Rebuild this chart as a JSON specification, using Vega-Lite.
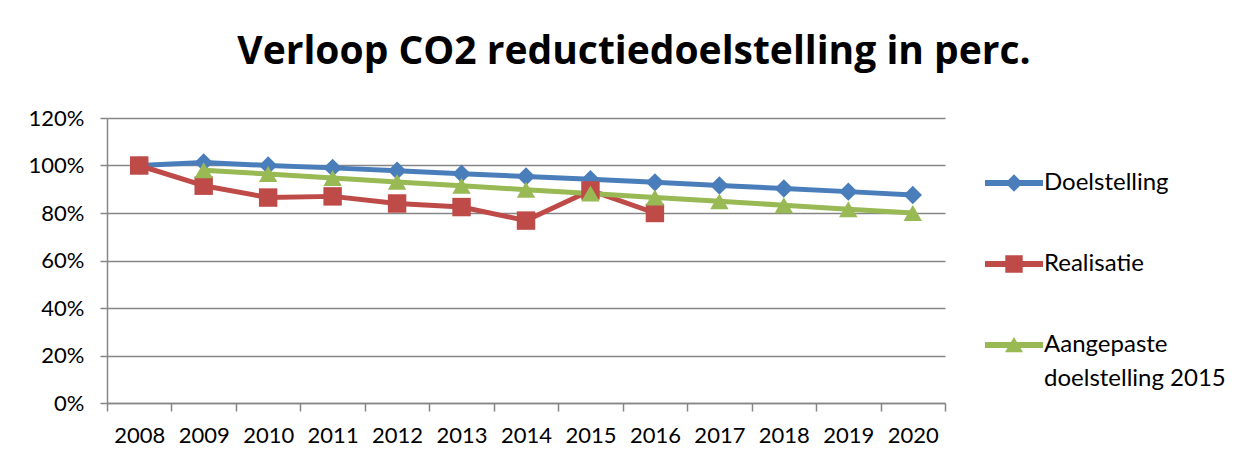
{
  "$schema": "https://vega.github.io/schema/vega-lite/v6.json",
  "width": 838,
  "height": 285,
  "autosize": {"type": "none"},
  "padding": {"left": 107, "top": 118, "right": 315, "bottom": 63},
  "background": "white",
  "title": {
    "text": "Verloop CO2 reductiedoelstelling in perc.",
    "font": "Open Sans",
    "fontSize": 39,
    "fontWeight": "bold",
    "color": "#000000",
    "anchor": "middle",
    "frame": "group",
    "dx": 108,
    "dy": 36,
    "offset": 40,
    "baseline": "alphabetic"
  },
  "config": {
    "view": {"stroke": null},
    "font": "Lato",
    "style": {"guide-label": {"lineHeight": 34}},
    "axis": {
      "labelFont": "Lato",
      "labelFontSize": 22,
      "labelColor": "#000000",
      "domainColor": "#868686",
      "tickColor": "#868686",
      "gridColor": "#868686",
      "domainWidth": 1.5,
      "tickWidth": 1.5,
      "gridWidth": 1.5,
      "title": null
    },
    "legend": {"labelFont": "Lato", "labelColor": "#000000"}
  },
  "data": {
    "values": [
      {"year": "2008", "series": "Doelstelling", "value": 100},
      {"year": "2009", "series": "Doelstelling", "value": 101.3},
      {"year": "2010", "series": "Doelstelling", "value": 100},
      {"year": "2011", "series": "Doelstelling", "value": 99},
      {"year": "2012", "series": "Doelstelling", "value": 97.8},
      {"year": "2013", "series": "Doelstelling", "value": 96.5},
      {"year": "2014", "series": "Doelstelling", "value": 95.4},
      {"year": "2015", "series": "Doelstelling", "value": 94.2},
      {"year": "2016", "series": "Doelstelling", "value": 92.9},
      {"year": "2017", "series": "Doelstelling", "value": 91.6},
      {"year": "2018", "series": "Doelstelling", "value": 90.3},
      {"year": "2019", "series": "Doelstelling", "value": 89},
      {"year": "2020", "series": "Doelstelling", "value": 87.6},
      {"year": "2008", "series": "Realisatie", "value": 100},
      {"year": "2009", "series": "Realisatie", "value": 91.5},
      {"year": "2010", "series": "Realisatie", "value": 86.5},
      {"year": "2011", "series": "Realisatie", "value": 87},
      {"year": "2012", "series": "Realisatie", "value": 84},
      {"year": "2013", "series": "Realisatie", "value": 82.5},
      {"year": "2014", "series": "Realisatie", "value": 76.8},
      {"year": "2015", "series": "Realisatie", "value": 89.5},
      {"year": "2016", "series": "Realisatie", "value": 80},
      {"year": "2009", "series": "Aangepaste doelstelling 2015", "value": 98},
      {"year": "2010", "series": "Aangepaste doelstelling 2015", "value": 96.4},
      {"year": "2011", "series": "Aangepaste doelstelling 2015", "value": 94.7},
      {"year": "2012", "series": "Aangepaste doelstelling 2015", "value": 93.1},
      {"year": "2013", "series": "Aangepaste doelstelling 2015", "value": 91.5},
      {"year": "2014", "series": "Aangepaste doelstelling 2015", "value": 89.8},
      {"year": "2015", "series": "Aangepaste doelstelling 2015", "value": 88.2},
      {"year": "2016", "series": "Aangepaste doelstelling 2015", "value": 86.5},
      {"year": "2017", "series": "Aangepaste doelstelling 2015", "value": 84.9},
      {"year": "2018", "series": "Aangepaste doelstelling 2015", "value": 83.3},
      {"year": "2019", "series": "Aangepaste doelstelling 2015", "value": 81.6},
      {"year": "2020", "series": "Aangepaste doelstelling 2015", "value": 80}
    ]
  },
  "encoding": {
    "x": {
      "field": "year",
      "type": "ordinal",
      "scale": {"type": "band", "paddingInner": 0, "paddingOuter": 0},
      "axis": {
        "labelAngle": 0,
        "tickBand": "extent",
        "tickSize": 8,
        "labelPadding": 14,
        "grid": false
      }
    },
    "y": {
      "field": "value",
      "type": "quantitative",
      "scale": {"domain": [0, 120], "nice": false, "zero": true},
      "axis": {
        "values": [0, 20, 40, 60, 80, 100, 120],
        "labelExpr": "datum.value + '%'",
        "grid": true,
        "tickSize": 7,
        "labelPadding": 16,
        "domain": true
      }
    }
  },
  "layer": [
    {
      "mark": {"type": "line", "strokeWidth": 5, "strokeCap": "round", "strokeJoin": "round"},
      "encoding": {
        "color": {
          "field": "series",
          "type": "nominal",
          "scale": {
            "domain": ["Doelstelling", "Realisatie", "Aangepaste doelstelling 2015"],
            "range": ["#4A7EBB", "#BE4B48", "#98B954"]
          },
          "legend": null
        }
      }
    },
    {
      "mark": {"type": "point", "filled": true, "opacity": 1, "size": 340},
      "encoding": {
        "color": {"field": "series", "type": "nominal", "legend": null},
        "shape": {
          "field": "series",
          "type": "nominal",
          "scale": {
            "domain": ["Doelstelling", "Realisatie", "Aangepaste doelstelling 2015"],
            "range": ["diamond", "square", "triangle-up"]
          },
          "legend": null
        }
      }
    },
    {
      "mark": {"type": "point", "filled": true, "opacity": 0, "size": 1},
      "encoding": {
        "fill": {
          "field": "series",
          "type": "nominal",
          "scale": {
            "domain": ["Doelstelling", "Realisatie", "Aangepaste doelstelling 2015"],
            "range": ["#4A7EBB", "#BE4B48", "#98B954"]
          },
          "legend": {
            "title": null,
            "orient": "none",
            "legendX": 878,
            "legendY": 36,
            "padding": 0,
            "symbolSize": 3364,
            "symbolOpacity": 1,
            "symbolStrokeWidth": 0,
            "labelFontSize": 24,
            "labelOffset": 1,
            "labelLimit": 400,
            "rowPadding": 40,
            "labelExpr": "datum.label == 'Aangepaste doelstelling 2015' ? ['Aangepaste', ' doelstelling 2015'] : datum.label"
          }
        },
        "shape": {
          "field": "series",
          "type": "nominal",
          "scale": {
            "domain": ["Doelstelling", "Realisatie", "Aangepaste doelstelling 2015"],
            "range": [
              "M-1,-0.1H1V0.1H-1Z M0,-0.3L0.3,0L0,0.3L-0.3,0Z",
              "M-1,-0.1H1V0.1H-1Z M-0.3,-0.3H0.3V0.3H-0.3Z",
              "M-1,-0.1H1V0.1H-1Z M0,-0.28L0.31,0.25L-0.31,0.25Z"
            ]
          },
          "legend": {
            "title": null,
            "orient": "none",
            "legendX": 878,
            "legendY": 36,
            "padding": 0,
            "symbolSize": 3364,
            "symbolOpacity": 1,
            "symbolStrokeWidth": 0,
            "labelFontSize": 24,
            "labelOffset": 1,
            "labelLimit": 400,
            "rowPadding": 40,
            "labelExpr": "datum.label == 'Aangepaste doelstelling 2015' ? ['Aangepaste', ' doelstelling 2015'] : datum.label"
          }
        }
      }
    }
  ],
  "resolve": {"scale": {"shape": "independent", "fill": "independent"}}
}
